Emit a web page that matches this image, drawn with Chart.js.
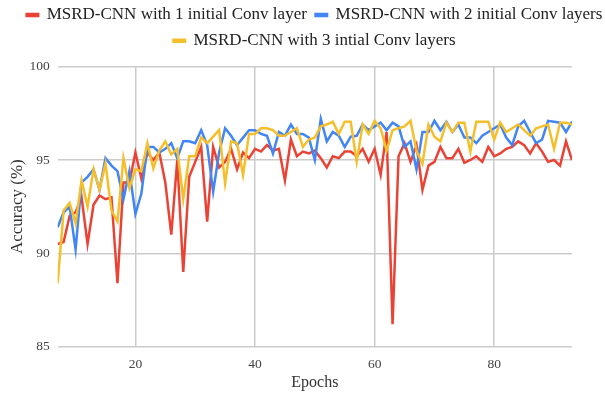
<!DOCTYPE html>
<html lang="en">
<head>
    <meta charset="UTF-8">
    <title>MSRD-CNN Accuracy</title>
    <script src="https://cdn.jsdelivr.net/npm/chart.js"></script>
    <style>
        body { margin: 0; background: #fff; }
        #wrap { width: 605px; height: 394px; }
    </style>
</head>
<body>
<div id="wrap"><canvas id="accChart" width="605" height="394"></canvas></div>
<script>
// epochs shown on the x axis
const epochs = [7, 8, 9, 10, 11, 12, 13, 14, 15, 16, 17, 18, 19, 20, 21, 22, 23, 24, 25, 26,
    27, 28, 29, 30, 31, 32, 33, 34, 35, 36, 37, 38, 39, 40, 41, 42, 43, 44, 45, 46,
    47, 48, 49, 50, 51, 52, 53, 54, 55, 56, 57, 58, 59, 60, 61, 62, 63, 64, 65, 66,
    67, 68, 69, 70, 71, 72, 73, 74, 75, 76, 77, 78, 79, 80, 81, 82, 83, 84, 85, 86,
    87, 88, 89, 90, 91, 92, 93];

// accuracy (%) per epoch
const acc1Conv = [90.5, 90.6, 92.0, 92.2, 93.0, 90.5, 92.6, 93.1, 92.9, 93.0, 88.4, 93.8, 93.8, 95.4,
    94.0, 95.4, 95.0, 95.4, 93.8, 91.0, 95.0, 89.0, 94.1, 94.9, 95.7, 91.7, 95.7, 94.6, 94.9, 95.6,
    94.5, 95.4, 95.1, 95.6, 95.45, 95.8, 95.5, 95.6, 93.9, 96.1, 95.2, 95.45, 95.35, 95.5, 95.1, 94.6,
    95.2, 95.1, 95.45, 95.45, 95.2, 95.6, 94.9, 95.6, 94.2, 96.5, 86.2, 95.2, 95.9, 94.9, 95.8, 93.4,
    94.7, 94.9, 95.7, 95.1, 95.1, 95.6, 94.85, 95.0, 95.2, 94.9, 95.7, 95.2, 95.35, 95.6, 95.7, 96.0,
    95.8, 95.35, 95.9, 95.45, 94.9, 95.0, 94.7, 96.0, 95.0];

const acc2Conv = [91.4, 92.2, 92.5, 90.2, 93.8, 94.1, 94.5, 93.4, 95.1, 94.7, 94.4, 92.9, 94.4, 92.1,
    93.2, 95.7, 95.7, 95.4, 95.6, 95.9, 95.1, 96.0, 96.0, 95.9, 96.6, 95.8, 93.3, 95.4, 96.7, 96.3,
    95.8, 96.2, 96.6, 96.6, 96.4, 96.3, 95.35, 96.5, 96.3, 96.9, 96.4, 96.4, 96.2, 95.0, 97.2, 96.0,
    96.5, 96.3, 95.7, 96.25, 96.3, 96.9, 96.6, 96.8, 97.0, 96.6, 97.0, 96.8, 95.7, 96.0, 94.5, 96.5,
    96.5, 97.1, 96.6, 97.05, 96.5, 96.9, 96.2, 96.2, 95.9, 96.3, 96.5, 96.7, 96.9, 96.2, 95.8, 96.8,
    97.1, 96.5, 95.9, 96.1, 97.1, 97.05, 97.0, 96.5, 97.05];

const acc3Conv = [88.4, 92.3, 92.7, 91.6, 93.9, 92.5, 94.5, 93.4, 94.8, 92.3, 91.7, 95.1, 93.5, 94.5,
    94.4, 95.9, 94.55, 95.5, 96.0, 95.3, 95.6, 92.9, 95.2, 95.2, 96.2, 95.9, 96.25, 96.6, 93.75, 96.0,
    95.9, 94.2, 96.4, 96.4, 96.7, 96.7, 96.6, 96.3, 96.3, 96.5, 96.7, 95.7, 96.1, 96.2, 96.8, 96.9,
    97.05, 96.4, 97.05, 97.05, 94.9, 96.9, 96.4, 97.1, 96.7, 95.5, 96.6, 96.7, 96.8, 97.1, 95.5, 94.8,
    96.9, 96.25, 96.0, 97.0, 96.5, 97.0, 97.0, 95.45, 97.05, 97.05, 97.05, 96.1, 97.0, 96.5, 96.7, 96.9,
    96.6, 96.3, 96.7, 96.8, 96.9, 95.6, 97.0, 97.0, 96.9];

const seriesNames = [
    'MSRD-CNN with 1 initial Conv layer',
    'MSRD-CNN with 2 initial Conv layers',
    'MSRD-CNN with 3 intial Conv layers'
];
const xTicks = [20, 40, 60, 80];
const yTicks = [85, 90, 95, 100];

const toPoints = vals => epochs.map((e, i) => ({ x: e, y: vals[i] }));

const serif = 'Liberation Serif, Times New Roman, serif';

// move the legend a bit, like the original layout
const nudgeLegend = {
    id: 'nudgeLegend',
    afterLayout(chart) {
        const lg = chart.legend;
        lg.left += 12; lg.right += 12;
        lg.top -= 7.5; lg.bottom -= 7.5;
    }
};

function lineSet(label, vals, color, order) {
    return {
        label: label,
        data: toPoints(vals),
        borderColor: color,
        backgroundColor: color,
        borderWidth: 2.5,
        pointRadius: 0,
        tension: 0,
        order: order
    };
}

new Chart(document.getElementById('accChart'), {
    type: 'line',
    data: {
        datasets: [
            lineSet(seriesNames[0], acc1Conv, '#EA4335', 3),
            lineSet(seriesNames[1], acc2Conv, '#4285F4', 2),
            lineSet(seriesNames[2], acc3Conv, '#F4BF2A', 1)
        ]
    },
    options: {
        responsive: false,
        animation: false,
        layout: { padding: { top: 5.3, left: 0, right: 0, bottom: 0 } },
        plugins: {
            tooltip: { enabled: false },
            legend: {
                position: 'top',
                labels: {
                    boxWidth: 11.5,
                    boxHeight: 2,
                    padding: 8.7,
                    color: '#222',
                    font: { family: serif, size: 17 },
                    sort: (a, b) => a.datasetIndex - b.datasetIndex
                }
            }
        },
        scales: {
            x: {
                type: 'linear',
                min: 7,
                max: 93,
                afterBuildTicks: s => { s.ticks = xTicks.map(v => ({ value: v })); },
                grid: { color: '#cccccc', lineWidth: 1.5, drawTicks: false },
                border: { display: false },
                ticks: { padding: 10, color: '#444', font: { family: serif, size: 13.5 } },
                title: {
                    display: true,
                    text: 'Epochs',
                    color: '#333',
                    font: { family: serif, size: 16 },
                    padding: { top: -10, bottom: 2 }
                }
            },
            y: {
                min: 85,
                max: 100,
                afterBuildTicks: s => { s.ticks = yTicks.map(v => ({ value: v })); },
                grid: { color: '#cccccc', lineWidth: 1.5, drawTicks: false },
                border: { display: false },
                ticks: { padding: 8, color: '#444', font: { family: serif, size: 13.5 } },
                title: {
                    display: true,
                    text: 'Accuracy (%)',
                    color: '#333',
                    font: { family: serif, size: 17 },
                    padding: { top: 7, bottom: -6 }
                }
            },
            // empty right axis, only keeps space on the right
            yR: {
                position: 'right',
                min: 85,
                max: 100,
                grid: { display: false },
                border: { display: false },
                ticks: { display: false },
                afterFit: s => { s.width = 33; }
            }
        }
    },
    plugins: [nudgeLegend]
});
</script>
</body>
</html>
